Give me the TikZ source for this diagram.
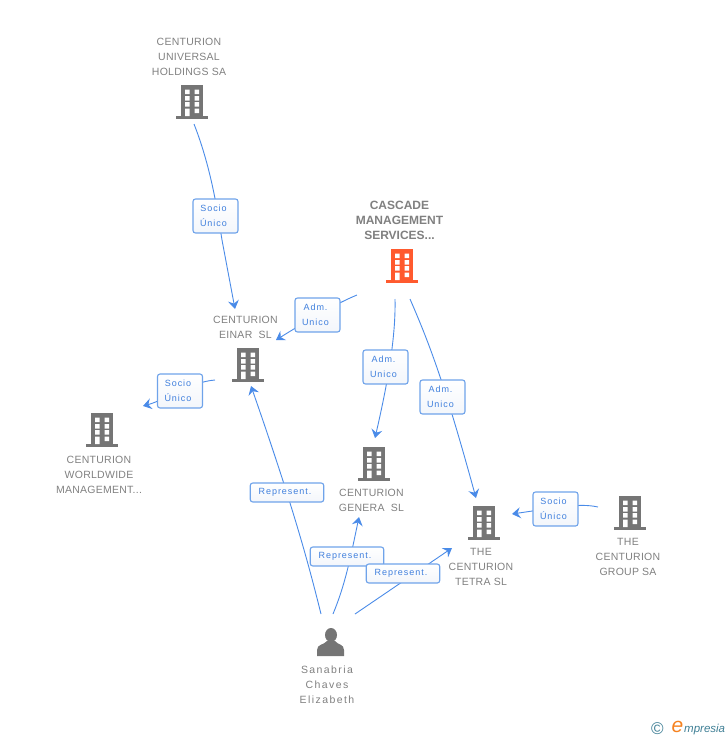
\documentclass[tikz,border=0pt]{standalone}
\usepackage{fontspec}
\setmainfont{Liberation Sans}
\newfontfamily\spaced[LetterSpace=11]{Liberation Sans}
\newfontfamily\spacedbig[LetterSpace=2.5]{Liberation Sans}
\newfontfamily\spacedwide[LetterSpace=13.5]{Liberation Sans}
\usetikzlibrary{arrows.meta}
\definecolor{gtext}{HTML}{808080}
\definecolor{gicon}{HTML}{757575}
\definecolor{oicon}{HTML}{FF5A2E}
\definecolor{blink}{HTML}{4A8BE8}
\definecolor{bborder}{HTML}{6FA3EA}
\definecolor{btext}{HTML}{3F7FDD}
\definecolor{tagbottom}{HTML}{F3F6FB}
\definecolor{logoteal}{HTML}{3F7F95}
\definecolor{logoorange}{HTML}{F58220}
\newcommand{\tsp}{\hspace*{4pt}}
\tikzset{
  caption/.style={align=center,text=gtext,font=\spacedbig\fontsize{10.5}{15}\selectfont,inner sep=0pt},
  personcaption/.style={caption,font=\spacedwide\fontsize{10.5}{15}\selectfont},
  maincaption/.style={align=center,text=gtext,font=\bfseries\fontsize{12}{15}\selectfont,inner sep=0pt},
  tag/.style={draw=bborder,line width=1.1pt,rounded corners=2.5pt,top color=white,bottom color=tagbottom,
    text=btext,font=\spaced\fontsize{9}{15}\selectfont,align=center,inner sep=0pt,minimum height=34pt,minimum width=45pt,
    execute at begin node={\vspace*{3.5pt}}},
  tagwide/.style={tag,minimum height=19pt,minimum width=73.5pt},
  link/.style={draw=blink,line width=0.9pt,-{Stealth[length=8.5pt,width=11pt,inset=3pt]}},
}
\newcommand{\bld}[4]{% name, center x, top y, colour
  \fill[#4] (#2-11,#3) rectangle (#2+11,#3+31);
  \fill[#4] (#2-16,#3+31) rectangle (#2+16,#3+33.5);
  \fill[white] (#2-7,#3+4.5) rectangle +(4.7,4.5) (#2+2.5,#3+4.5) rectangle +(4.7,4.5)
   (#2-7,#3+11) rectangle +(4.7,4.5) (#2+2.5,#3+11) rectangle +(4.7,4.5)
   (#2-7,#3+17.2) rectangle +(4.7,4.3) (#2+2.5,#3+17.2) rectangle +(4.7,4.3)
   (#2-7,#3+23.5) rectangle +(4.7,7.5) (#2+2.5,#3+23.5) rectangle +(4.7,4.5);
  \coordinate (#1) at (#2,#3+16);
}
\begin{document}
\begin{tikzpicture}[x=1pt,y=-1pt]
\useasboundingbox (0,0) rectangle (728,740);
% buildings
\bld{universal}{192}{85}{gicon}
\bld{cascade}{402}{249}{oicon}
\bld{einar}{248}{348}{gicon}
\bld{worldwide}{102}{413}{gicon}
\bld{genera}{374}{447}{gicon}
\bld{tetra}{484}{506}{gicon}
\bld{group}{630}{496}{gicon}
% person
\fill[gicon] (331,635) ellipse (6pt and 7pt);
\fill[gicon] (317,656) -- (317,650) .. controls (317,644) and (324,645) .. (327,641) -- (335,641) .. controls (338,645) and (344,644) .. (344,650) -- (344,656) -- cycle;
\coordinate (person) at (331,640);
% captions
\node[caption] (capuniversal) at (189,56.5) {CENTURION\\UNIVERSAL\\HOLDINGS SA};
\node[maincaption] (capcascade) at (399.5,220) {CASCADE\\MANAGEMENT\\SERVICES...};
\node[caption] (capeinar) at (245.5,327) {CENTURION\\EINAR\ \ SL};
\node[caption] (capworldwide) at (99,474.5) {CENTURION\\WORLDWIDE\\MANAGEMENT...};
\node[caption] (capgenera) at (371.5,500.5) {CENTURION\\GENERA\ \ SL};
\node[caption] (captetra) at (481,567) {THE\\CENTURION\\TETRA SL};
\node[caption] (capgroup) at (628,557) {THE\\CENTURION\\GROUP SA};
\node[personcaption] (capperson) at (327,685) {Sanabria\\Chaves\\Elizabeth};
% free ends of the connectors
\coordinate (a1) at (194,124); \coordinate (b1) at (235,309);
\coordinate (a2) at (357,295); \coordinate (b2) at (276,340);
\coordinate (a3) at (395,299); \coordinate (b3) at (375,438);
\coordinate (a4) at (410,299); \coordinate (b4) at (476,498);
\coordinate (a5) at (321,614); \coordinate (b5) at (251,386);
\coordinate (a6) at (333,614); \coordinate (b6) at (359,517);
\coordinate (a7) at (355,614); \coordinate (b7) at (452,548);
\coordinate (a8) at (598,507); \coordinate (b8) at (512,514);
\coordinate (a9) at (215,380); \coordinate (b9) at (143,406);
% connectors
\draw[link] (a1) .. controls (212,170) and (218,215) .. (222,240) -- (b1);
\draw[link] (a2) .. controls (335,304) and (305,322) .. (b2);
\draw[link] (a3) .. controls (396,340) and (386,390) .. (b3);
\draw[link] (a4) .. controls (430,345) and (445,385) .. (b4);
\draw[link] (a5) .. controls (310,570) and (296,515) .. (b5);
\draw[link] (a6) .. controls (345,585) and (350,560) .. (b6);
\draw[link] (a7) -- (b7);
\draw[link] (a8) .. controls (580,503) and (560,507) .. (b8);
\draw[link] (a9) .. controls (190,382) and (165,400) .. (b9);
% labels on the connectors
\node[tag] (t1) at (215.5,216) {Socio\tsp\\Único\tsp};
\node[tag] (t2) at (317.5,315) {Adm.\tsp\\Unico\tsp};
\node[tag] (t3) at (385.5,367) {Adm.\tsp\\Unico\tsp};
\node[tag] (t4) at (442.5,397) {Adm.\tsp\\Unico\tsp};
\node[tag] (t5) at (180,391) {Socio\tsp\\Único\tsp};
\node[tag] (t6) at (555.5,509) {Socio\tsp\\Único\tsp};
\node[tagwide] (t7) at (287,492.5) {Represent.\tsp};
\node[tagwide] (t8) at (347,556.5) {Represent.\tsp};
\node[tagwide] (t9) at (403,573.5) {Represent.\tsp};
% logo
\node[text=logoteal,font=\fontsize{17}{17}\selectfont,inner sep=0pt] (copy) at (657.5,729) {©};
\node[text=logoorange,font=\itshape\fontsize{21}{21}\selectfont,inner sep=0pt] (logoe) at (677.5,727) {e};
\node[text=logoteal,font=\itshape\fontsize{11.5}{12}\selectfont,inner sep=0pt,anchor=west] (logot) at (684,729.5) {mpresia};
\end{tikzpicture}
\end{document}
